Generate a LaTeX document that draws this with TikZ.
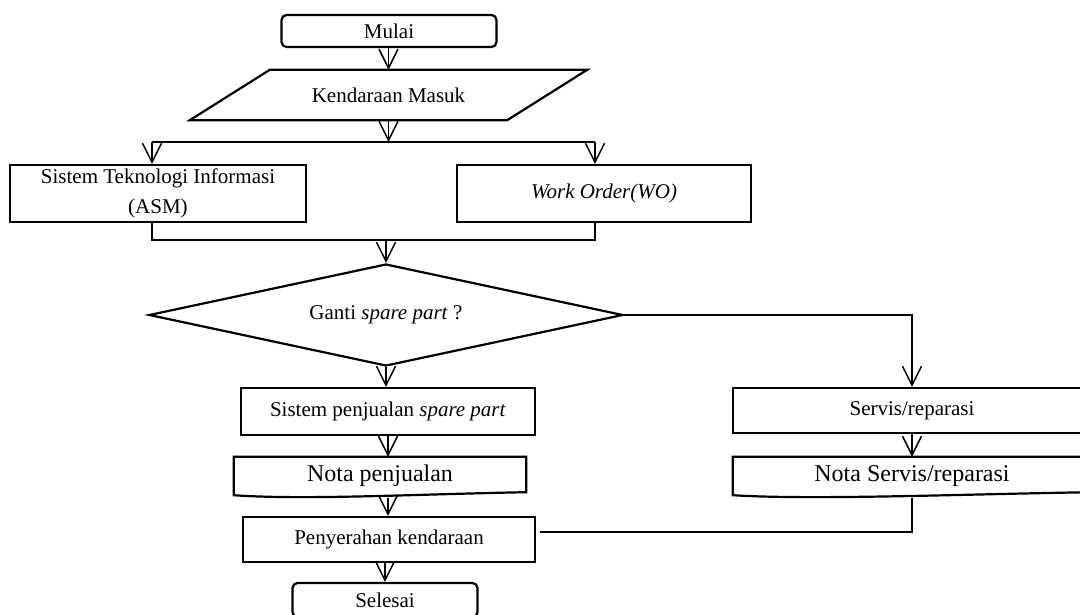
\documentclass[tikz,border=0pt]{standalone}
\usepackage{fontspec}
\setmainfont{Liberation Serif}
\usepackage{tikz}
\usetikzlibrary{calc,arrows.meta,shapes.geometric}

\tikzset{
  bentuk/.style={draw,line width=2.2pt},
  kotak/.style={bentuk,rectangle,inner sep=0pt,font=\fontsize{21}{25}\selectfont},
  terminal/.style={kotak,rounded corners=5pt},
  nota/.style={rectangle,inner sep=0pt,font=\fontsize{24}{28}\selectfont},
  garis/.style={line width=1.5pt},
  panah/.style={garis,-{Straight Barb[length=19pt,width=19pt,line width=1.5pt]}},
}

\begin{document}
\begin{tikzpicture}[x=1pt,y=-1pt]
  \useasboundingbox (0,0) rectangle (1080,615);

  \node(mulai)[terminal,minimum width=215pt,minimum height=32pt] at (389,31) {Mulai};
  \node(masuk)[rectangle,inner sep=0pt,minimum width=317pt,minimum height=50pt,font=\fontsize{21}{25}\selectfont] at (388.5,95) {Kendaraan Masuk};
  \draw[bentuk] ([xshift=40pt]masuk.north west) -- ([xshift=40pt]masuk.north east)
    -- ([xshift=-40pt]masuk.south east) -- ([xshift=-40pt]masuk.south west) -- cycle;

  \node(sti)[kotak,minimum width=296pt,minimum height=57pt,align=center,font=\fontsize{21}{30}\selectfont] at (158,193.5) {Sistem Teknologi Informasi\\(ASM)};
  \node(wo)[kotak,minimum width=294pt,minimum height=57pt] at (604,193.5) {\textit{Work Order(WO)}};

  \node(tanya)[bentuk,diamond,aspect=4.65,inner sep=0pt,minimum width=474pt,minimum height=102pt,font=\fontsize{21}{25}\selectfont] at (386,315) {Ganti \textit{spare part} ?};

  \node(jual)[kotak,minimum width=294pt,minimum height=47pt] at (388,411.5) {Sistem penjualan \textit{spare part}};
  \node(notajual)[nota,minimum width=292pt,minimum height=38pt] at (380,476) {Nota penjualan};
  \node(serah)[kotak,minimum width=292pt,minimum height=45pt] at (389,539.5) {Penyerahan kendaraan};
  \node(selesai)[terminal,minimum width=185pt,minimum height=34pt] at (385,600) {Selesai};

  \node(servis)[kotak,minimum width=358pt,minimum height=45pt] at (912,410.5) {Servis/reparasi};
  \node(notasrv)[nota,minimum width=358pt,minimum height=38pt] at (912,476) {Nota Servis/reparasi};

  % dokumen nota
  \draw[bentuk] (notajual.north west) -- (notajual.north east) -- ([yshift=3pt]notajual.south east)
    .. controls +(-110pt,-2pt) and +(70pt,-5pt) .. (notajual.south west) -- cycle;
  \draw[bentuk] (notasrv.north west) -- (notasrv.north east) -- ([yshift=3pt]notasrv.south east)
    .. controls +(-130pt,-2pt) and +(80pt,-5pt) .. (notasrv.south west) -- cycle;

  \coordinate (cabang) at (388.5,142);
  \coordinate (kiri) at (152,142);
  \coordinate (kanan) at (595,142);
  \coordinate (gabung) at (386,240);
  \coordinate (belok) at (912,315);
  \coordinate (ujung) at (540,532);

  \draw[panah] (mulai.south -| masuk.north) -- (masuk.north);
  \draw[panah] (masuk.south) -- (cabang);
  \draw[garis] (kiri) -- (kanan);
  \draw[panah] (kiri) -- (kiri |- sti.north);
  \draw[panah] (kanan) -- (kanan |- wo.north);

  \draw[garis] (sti.south -| kiri) -- (kiri |- gabung) -- (kanan |- gabung) -- (wo.south -| kanan);
  \draw[panah] (gabung) -- (tanya.north);

  \draw[panah] (tanya.south) -- (tanya.south |- jual.north);
  \draw[panah] (tanya.east) -- (belok) -- (servis.north);

  \draw[panah] (jual.south) -- (jual.south |- notajual.north);
  \draw[panah] ([yshift=-3pt]notajual.south -| jual.south) -- (jual.south |- serah.north);
  \draw[panah] (serah.south -| selesai.north) -- (selesai.north);

  \draw[panah] (servis.south) -- (notasrv.north);
  \draw[garis] ([yshift=-3pt]notasrv.south) -- (notasrv.south |- ujung) -- (ujung);

\end{tikzpicture}
\end{document}
